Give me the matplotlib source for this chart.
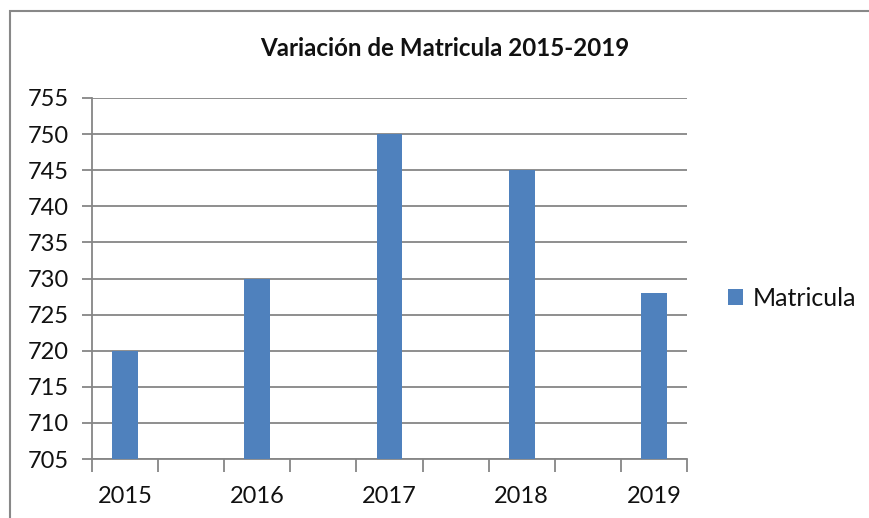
import matplotlib
matplotlib.use("Agg")
import matplotlib.pyplot as plt
from matplotlib.patches import Rectangle
import numpy as np

years = ["2015", "2016", "2017", "2018", "2019"]
matricula = [720, 730, 750, 745, 728]
y_ticks = [705, 710, 715, 720, 725, 730, 735, 740, 745, 750, 755]
title = "Variación de Matricula 2015-2019"
series_name = "Matricula"

plt.rcParams['font.family'] = ['Lato', 'DejaVu Sans']

W, H = 869, 518
fig = plt.figure(figsize=(W / 100, H / 100), dpi=100)
fig.patch.set_facecolor("white")

ax = fig.add_axes([92 / W, 1 - 459 / H, (687 - 92) / W, (459 - 98) / H])
# category axis has an empty slot between consecutive years
n_slots = 2 * len(years) - 1
x = 2 * np.arange(len(years))
ax.bar(x, matricula, width=0.39, color="#4F81BD", label=series_name, zorder=3)
ax.set_xlim(-0.5, n_slots - 0.5)
ax.set_ylim(y_ticks[0], y_ticks[-1])
ax.set_yticks(y_ticks)
ax.yaxis.grid(True, color="#868686", linewidth=1.3, zorder=0)
ax.set_axisbelow(True)

ax.set_xticks(x)
ax.set_xticklabels(years)
ax.set_xticks(np.arange(n_slots + 1) - 0.5, minor=True)
ax.tick_params(axis="x", which="major", length=0, pad=19.5, labelsize=17, labelcolor="#111111")
ax.tick_params(axis="x", which="minor", length=9, width=1.3, color="#868686")
ax.tick_params(axis="y", length=7, width=1.3, color="#868686", labelsize=17, pad=9.5, labelcolor="#111111")

for s in ["top", "right"]:
    ax.spines[s].set_visible(False)
for s in ["left", "bottom"]:
    ax.spines[s].set_color("#868686")
    ax.spines[s].set_linewidth(1.3)

fig.text(445 / W, 1 - 48 / H, title, ha="center", va="center",
         fontsize=17.4, fontweight="bold", color="#111111")

fig.legend(loc="center left", bbox_to_anchor=(718 / W, 1 - 298 / H),
           frameon=False, fontsize=18, handlelength=0.6, handleheight=0.6,
           handletextpad=0.4, borderaxespad=0, labelcolor="#111111")

fig.patches.append(Rectangle((10 / W, -0.1), 1.2, 1.1 - 11 / H,
                             transform=fig.transFigure, fill=False,
                             edgecolor="#888888", linewidth=1.5))

fig.savefig("out.png", dpi=100, facecolor="white")
